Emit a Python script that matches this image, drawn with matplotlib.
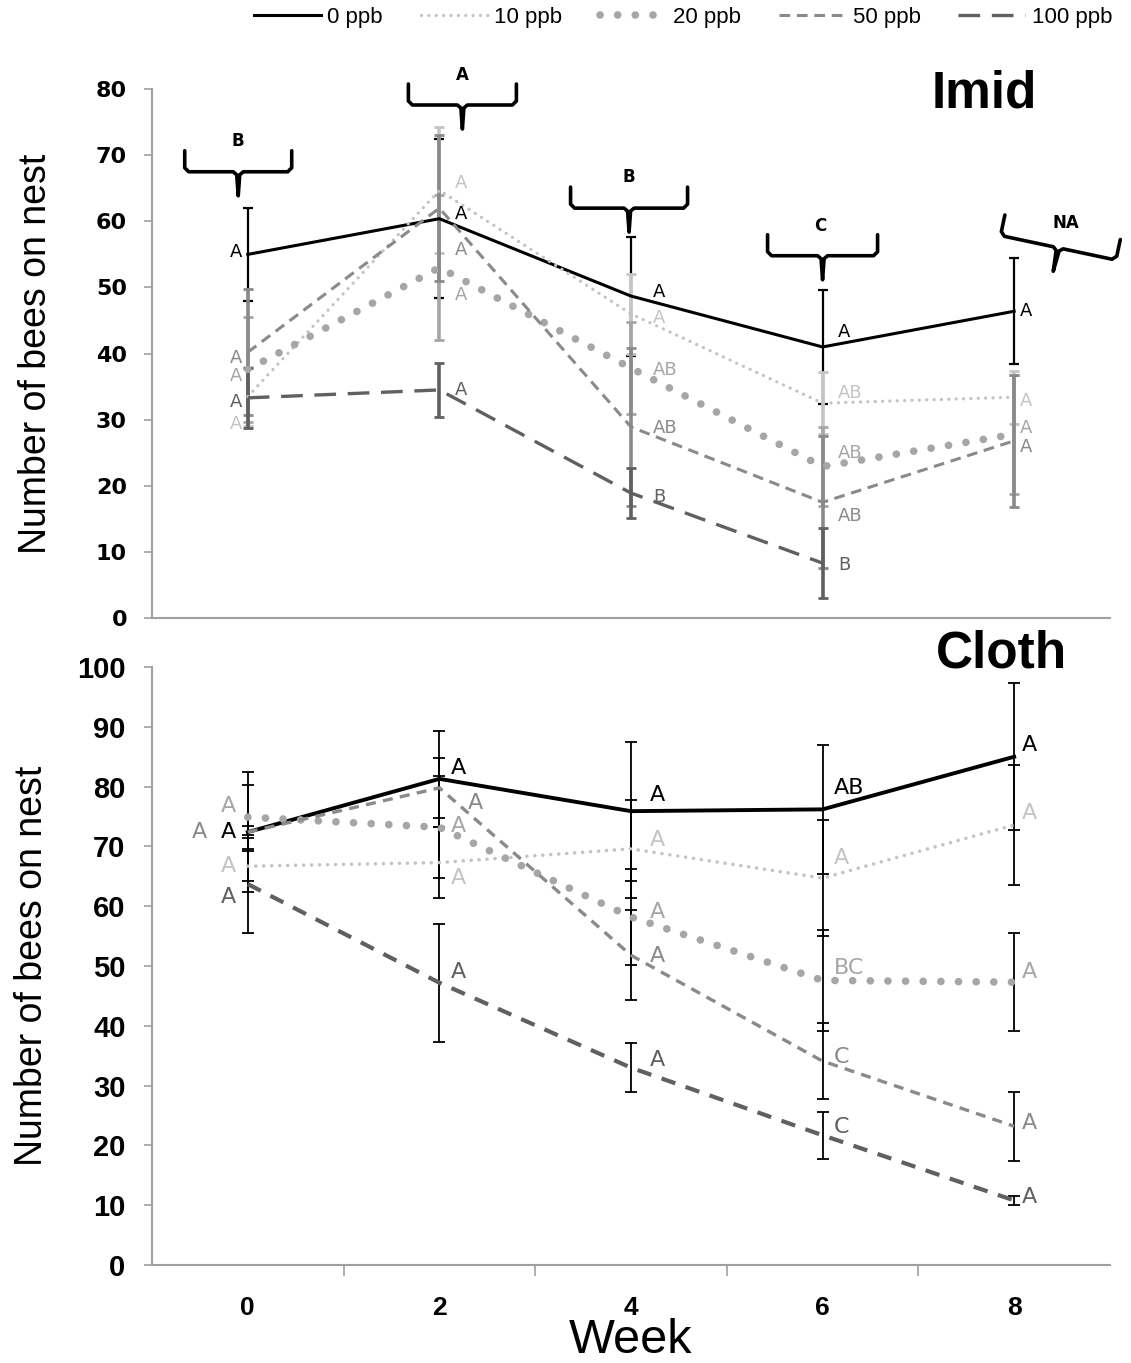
import numpy as np
import matplotlib.pyplot as plt
from matplotlib.lines import Line2D
import matplotlib.transforms as mtransforms

weeks = ["0", "2", "4", "6", "8"]
doses = ["0 ppb", "10 ppb", "20 ppb", "50 ppb", "100 ppb"]

# Imid panel: mean and error per dose (rows) and week (cols)
imid_mean = [
    [55.0, 60.4, 48.7, 41.0, 46.4],
    [33.5, 64.7, 46.0, 32.5, 33.4],
    [37.6, 53.0, 37.8, 22.9, 27.8],
    [40.2, 62.0, 28.9, 17.5, 26.8],
    [33.3, 34.5, 18.9, 8.3, np.nan],
]
imid_err = [
    [7.0, 12.0, 9.0, 8.6, 8.0],
    [4.5, 9.5, 6.0, 4.7, 4.0],
    [8.0, 11.0, 7.0, 6.0, 9.0],
    [9.5, 11.0, 12.0, 10.0, 10.0],
    [4.5, 4.1, 3.8, 5.3, np.nan],
]
imid_letters = [
    ["A", "A", "A", "A", "A"],
    ["A", "A", "A", "AB", "A"],
    ["A", "A", "AB", "AB", "A"],
    ["A", "A", "AB", "AB", "A"],
    ["A", "A", "B", "B", ""],
]
imid_week_letters = ["B", "A", "B", "C", "NA"]

# Cloth panel
cloth_mean = [
    [72.4, 81.3, 75.9, 76.2, 85.0],
    [66.7, 67.3, 69.6, 64.7, 73.6],
    [74.9, 73.2, 58.2, 47.6, 47.3],
    [72.4, 79.8, 51.8, 34.1, 23.2],
    [63.7, 47.2, 33.0, 21.7, 10.8],
]
cloth_err = [
    [10.0, 8.0, 11.6, 10.8, 12.3],
    [2.5, 6.0, 8.2, 9.7, 10.0],
    [5.4, 8.5, 8.0, 8.4, 8.2],
    [1.0, 5.0, 7.5, 6.3, 5.8],
    [8.2, 9.9, 4.1, 3.9, 0.8],
]
cloth_letters = [
    ["A", "A", "A", "AB", "A"],
    ["A", "A", "A", "A", "A"],
    ["A", "A", "A", "BC", "A"],
    ["A", "A", "A", "C", "A"],
    ["A", "A", "A", "C", "A"],
]

# label placement (layout only)
imid_lab_y = [
    [55.4, 61.1, 49.3, 43.3, 46.4],
    [29.3, 65.8, 45.4, 34.0, 32.8],
    [36.6, 48.9, 37.5, 25.0, 28.7],
    [39.3, 55.7, 28.7, 15.4, 25.9],
    [32.7, 34.5, 18.3, 8.0, 0],
]
imid_lab_dx = [-0.03, 0.08, 0.115, 0.08, 0.03]
cloth_lab_y = [
    [72.4, 83.1, 78.6, 79.8, 87.0],
    [66.7, 64.7, 71.1, 68.1, 75.6],
    [76.8, 73.4, 59.0, 49.7, 49.0],
    [72.4, 77.3, 51.7, 34.8, 23.7],
    [61.5, 49.0, 34.3, 23.1, 11.4],
]
cloth_lab_dx = [-0.06, 0.06, 0.10, 0.06, 0.04]

colors = ["black", "#c4c4c4", "#a6a6a6", "#8a8a8a", "#606060"]
styles = [
    dict(ls="-", lw=2.2),
    dict(ls=(0, (0.01, 2.2)), lw=2.4, dash_capstyle="round"),
    dict(ls=(0, (0.01, 2.3)), lw=5.5, dash_capstyle="round"),
    dict(ls=(0, (3.5, 2.2)), lw=2.2),
    dict(ls=(0, (6.5, 3.5)), lw=2.4),
]
cloth_styles = [
    dict(ls="-", lw=2.8),
    dict(ls=(0, (0.01, 2.2)), lw=2.6, dash_capstyle="round"),
    dict(ls=(0, (0.01, 2.3)), lw=5.5, dash_capstyle="round"),
    dict(ls=(0, (3.0, 2.2)), lw=2.4),
    dict(ls=(0, (3.5, 2.6)), lw=3.0),
]

plt.rcParams["font.family"] = ["Liberation Sans", "DejaVu Sans"]

fig = plt.figure(figsize=(11.31, 13.63), dpi=100)
ax1 = fig.add_axes([0.1344, 0.5466, 0.847, 0.388])
ax2 = fig.add_axes([0.1344, 0.0719, 0.847, 0.4387])
x = np.arange(len(weeks))
gray = "#a0a0a0"


def style_axes(ax, ymax, fs, fam, pad):
    for s in ["top", "right"]:
        ax.spines[s].set_visible(False)
    for s in ["left", "bottom"]:
        ax.spines[s].set_color(gray)
        ax.spines[s].set_linewidth(1.5)
    ax.set_xlim(-0.5, 4.5)
    ax.set_ylim(0, ymax)
    ax.set_yticks(np.arange(0, ymax + 1, 10))
    ax.tick_params(axis="y", length=6, width=1.2, color=gray, labelsize=fs, pad=pad)
    for t in ax.get_yticklabels():
        t.set_fontweight("bold")
        t.set_family(fam)


# ---- Imid ----
for i in range(5):
    ax1.errorbar(x, imid_mean[i], yerr=imid_err[i], fmt="none",
                 ecolor=colors[i], elinewidth=2.6 if i else 1.6,
                 capsize=3.5, capthick=2.0 if i else 1.6, zorder=2)
for i in range(5):
    ax1.plot(x, imid_mean[i], color=colors[i], zorder=3, **styles[i])
for i in range(5):
    for w in range(5):
        if not imid_letters[i][w]:
            continue
        ax1.text(w + imid_lab_dx[w], imid_lab_y[i][w], imid_letters[i][w],
                 ha="right" if w == 0 else "left", va="center",
                 fontsize=13, color=colors[i], family="DejaVu Sans", zorder=4)

style_axes(ax1, 80, 16, "DejaVu Sans", 12)
ax1.set_xticks([])
ax1.set_ylabel("Number of bees on nest", fontsize=27)
ax1.yaxis.set_label_coords(-0.102, 0.5)
ax1.text(0.814, 0.966, "Imid", transform=ax1.transAxes, fontsize=37,
         fontweight="bold", va="baseline", ha="left")


def brace(ax, xc, yc, width, angle, letter, lx, ly):
    # curly bracket drawn in inches, rotated, anchored at data point
    hw = width / 2.0
    h, r, tip = 0.21, 0.04, 0.24
    pts = [(-hw, h), (-hw, r), (-hw + r, 0), (-0.05, 0), (-0.015, -0.03),
           (0, -tip), (0.015, -0.03), (0.05, 0), (hw - r, 0), (hw, r), (hw, h)]
    xs, ys = zip(*pts)
    tr = (mtransforms.Affine2D().rotate_deg(angle) + fig.dpi_scale_trans
          + mtransforms.ScaledTranslation(xc, yc, ax.transData))
    ax.add_line(Line2D(xs, ys, transform=tr, color="black", lw=2.6,
                       solid_joinstyle="round", solid_capstyle="round",
                       clip_on=False))
    ax.text(lx, ly, letter, fontsize=12, fontweight="bold", ha="center",
            va="center", family="DejaVu Sans", clip_on=False)


brace(ax1, -0.05, 67.5, 1.07, 0, imid_week_letters[0], -0.05, 72.2)
brace(ax1, 1.12, 77.6, 1.08, 0, imid_week_letters[1], 1.12, 82.1)
brace(ax1, 1.99, 62.0, 1.17, 0, imid_week_letters[2], 1.99, 66.7)
brace(ax1, 3.00, 54.8, 1.10, 0, imid_week_letters[3], 2.99, 59.3)
brace(ax1, 4.23, 56.0, 1.18, -12, imid_week_letters[4], 4.27, 59.8)

# ---- Cloth ----
for i in range(5):
    ax2.errorbar(x, cloth_mean[i], yerr=cloth_err[i], fmt="none",
                 ecolor="black", elinewidth=1.3, capsize=4, capthick=1.3,
                 zorder=2)
for i in range(5):
    ax2.plot(x, cloth_mean[i], color=colors[i], zorder=3, **cloth_styles[i])
for i in range(5):
    for w in range(5):
        dx = cloth_lab_dx[w]
        if w == 0 and i == 3:
            dx = -0.21
        if w == 1 and i == 3:
            dx = 0.15
        ax2.text(w + dx, cloth_lab_y[i][w], cloth_letters[i][w],
                 ha="right" if w == 0 else "left", va="center",
                 fontsize=16, color=colors[i], family="DejaVu Sans", zorder=4)

style_axes(ax2, 100, 21, "Liberation Sans", 13)
ax2.set_xticks([0.5, 1.5, 2.5, 3.5])
ax2.set_xticklabels([])
ax2.tick_params(axis="x", which="major", length=8, width=1.2, color=gray)
ax2.set_xticks(x, minor=True)
ax2.set_xticklabels(weeks, minor=True, fontsize=19, fontweight="bold")
ax2.tick_params(axis="x", which="minor", length=0, pad=22)
ax2.set_ylabel("Number of bees on nest", fontsize=27)
ax2.yaxis.set_label_coords(-0.107, 0.5)
ax2.set_xlabel("Week", fontsize=35, labelpad=-1)
ax2.text(0.818, 1.0, "Cloth", transform=ax2.transAxes, fontsize=37,
         fontweight="bold", va="baseline", ha="left")

handles = [Line2D([], [], color=colors[i], **styles[i]) for i in range(5)]
fig.legend(handles, doses, loc="center", bbox_to_anchor=(0.604, 0.987),
           ncol=5, frameon=False, fontsize=16, handlelength=3.0,
           handletextpad=0.3, columnspacing=1.7)

fig.savefig("out.png", dpi=100)
